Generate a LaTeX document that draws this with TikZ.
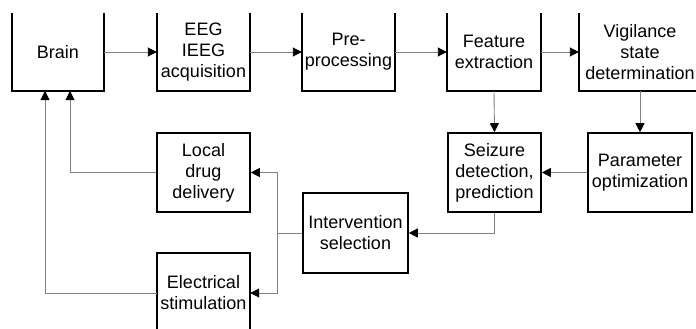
\documentclass[tikz,border=0pt]{standalone}
\usepackage{fontspec}
\setmainfont{Liberation Sans}
\usetikzlibrary{arrows.meta,calc}
\begin{document}
\begin{tikzpicture}[x=1pt,y=-1pt,
  lbl/.style={align=center,inner sep=0pt,font=\fontsize{18}{21}\selectfont},
  bx/.style={lbl,draw=black,line width=1.6pt},
  open/.style={draw=black,line width=1.6pt},
  conn/.style={draw=black!50,line width=0.9pt,-{Triangle[length=9pt,width=9pt,color=black]}},
  wire/.style={draw=black!50,line width=0.9pt}]
\useasboundingbox (0,0) rectangle (696,329);
% top row (boxes cut off at the top edge)
\node[lbl,minimum width=92pt,minimum height=78pt] (brain) at (58,52) {Brain};
\node[lbl,minimum width=93pt,minimum height=78pt] (eeg) at (203.5,52) {EEG\\IEEG\\acquisition};
\node[lbl,minimum width=93pt,minimum height=78pt] (pre) at (348.5,52) {Pre-\\processing};
\node[lbl,minimum width=94pt,minimum height=78pt] (feat) at (494,52) {Feature\\extraction};
\node[lbl,minimum width=122pt,minimum height=78pt] (vig) at (640,52) {Vigilance\\state\\determination};
\foreach \n in {brain,eeg,pre,feat,vig}
  \draw[open] (\n.north west) -- (\n.south west) -- (\n.south east) -- (\n.north east);
% second row
\node[bx,minimum width=93pt,minimum height=79pt] (seiz) at (494.5,172.5) {Seizure\\detection,\\prediction};
\node[bx,minimum width=104pt,minimum height=79pt] (param) at (640,172.5) {Parameter\\optimization};
\node[bx,minimum width=93pt,minimum height=79pt] (local) at (203.5,172.5) {Local\\drug\\delivery};
\node[bx,minimum width=105pt,minimum height=80pt] (interv) at (355.5,233) {Intervention\\selection};
\node[lbl,minimum width=93pt,minimum height=80pt] (elec) at (203.5,293) {Electrical\\stimulation};
\draw[open] (elec.south west) -- (elec.north west) -- (elec.north east) -- (elec.south east);
% junctions
\coordinate (jn) at (277,233);
\coordinate (b1) at (70,91);
\coordinate (b2) at (45,91);
% connectors
\draw[conn] (brain.east) -- (eeg.west);
\draw[conn] (eeg.east) -- (pre.west);
\draw[conn] (pre.east) -- (feat.west);
\draw[conn] (feat.east) -- (vig.west);
\draw[conn] (feat.south) -- (seiz.north);
\draw[conn] (vig.south) -- (param.north);
\draw[conn] (param.west) -- (seiz.east);
\draw[conn] (seiz.south) |- (interv.east);
\draw[wire] (interv.west) -- (jn);
\draw[conn] (jn) |- (local.east);
\draw[conn] (jn) |- (elec.east);
\draw[conn] (local.west) -| (b1);
\draw[conn] (elec.west) -| (b2);
\end{tikzpicture}
\end{document}
